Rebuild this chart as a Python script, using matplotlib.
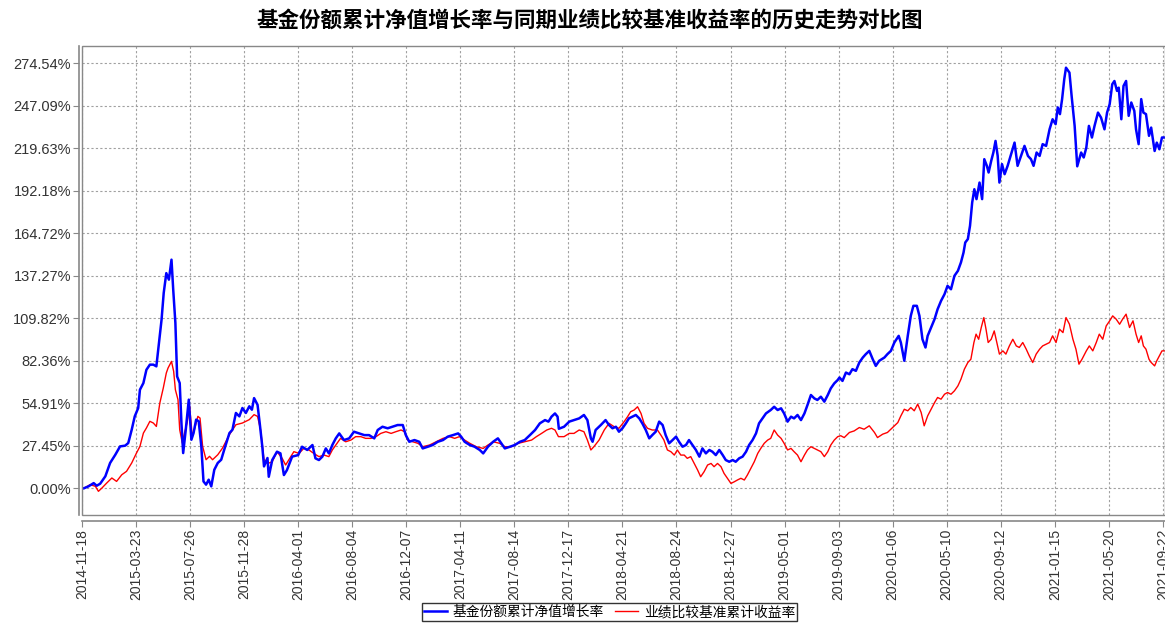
import matplotlib
matplotlib.use("Agg")
import matplotlib.pyplot as plt
import matplotlib.dates as mdates
from matplotlib.patches import Rectangle
import pandas as pd

TITLE = "基金份额累计净值增长率与同期业绩比较基准收益率的历史走势对比图"
FUND_LABEL = "基金份额累计净值增长率"
BENCH_LABEL = "业绩比较基准累计收益率"
START_DATE = "2014-11-18"

# x values are days after START_DATE, y values are cumulative returns in %
FUND_DAYS = [
    0, 4, 15, 27, 34, 42, 54, 65, 77, 88, 100, 107, 115, 122, 130, 134, 142, 149,
    157, 165, 172, 178, 184, 189, 195, 201, 207, 211, 216, 220, 226, 230, 234, 240,
    247, 253, 258, 264, 270, 276, 281, 287, 293, 299, 306, 314, 322, 329, 341, 348,
    356, 364, 371, 379, 387, 393, 398, 406, 411, 417, 421, 429, 432, 440, 451, 459,
    467, 474, 486, 500, 509, 521, 533, 540, 548, 556, 564, 571, 579, 587, 595, 606,
    618, 629, 641, 653, 664, 676, 684, 695, 707, 718, 730, 742, 749, 757, 769, 780,
    788, 800, 811, 823, 835, 846, 858, 870, 877, 885, 897, 908, 920, 928, 939, 951,
    962, 970, 978, 990, 1001, 1013, 1024, 1036, 1048, 1059, 1071, 1079, 1086, 1094,
    1100, 1103, 1115, 1127, 1138, 1150, 1161, 1169, 1177, 1181, 1188, 1200, 1211,
    1219, 1227, 1235, 1242, 1250, 1258, 1265, 1273, 1281, 1289, 1296, 1304, 1312,
    1319, 1327, 1335, 1343, 1350, 1358, 1366, 1374, 1381, 1389, 1397, 1404, 1412,
    1420, 1428, 1435, 1443, 1451, 1458, 1466, 1474, 1482, 1489, 1497, 1505, 1512,
    1520, 1528, 1536, 1543, 1551, 1559, 1566, 1574, 1582, 1593, 1601, 1609, 1617,
    1624, 1632, 1640, 1647, 1655, 1663, 1671, 1678, 1686, 1694, 1701, 1709, 1717,
    1725, 1732, 1740, 1748, 1752, 1759, 1767, 1775, 1782, 1790, 1798, 1806, 1813,
    1821, 1829, 1836, 1844, 1856, 1863, 1871, 1879, 1889, 1894, 1902, 1910, 1917,
    1923, 1931, 1937, 1944, 1951, 1956, 1964, 1972, 1979, 1987, 1995, 2002, 2010,
    2018, 2026, 2033, 2039, 2043, 2049, 2054, 2059, 2064, 2069, 2076, 2082, 2087,
    2093, 2097, 2103, 2108, 2113, 2118, 2122, 2128, 2134, 2141, 2149, 2157, 2164,
    2172, 2180, 2188, 2195, 2201, 2208, 2215, 2222, 2230, 2238, 2245, 2252, 2257,
    2262, 2267, 2272, 2276, 2284, 2289, 2296, 2302, 2306, 2311, 2317, 2323, 2329,
    2336, 2342, 2350, 2357, 2365, 2371, 2377, 2383, 2388, 2394, 2398, 2404, 2409,
    2415, 2421, 2427, 2434, 2438, 2444, 2450, 2455, 2461, 2468, 2473, 2481, 2486,
    2492, 2498, 2504,
]
FUND_VALUES = [
    0, 0, 1.3, 3.4, 1.7, 3, 7.8, 16.4, 21.7, 27.1, 27.6, 29.3, 37.9, 46.5, 51.9, 63.7, 68, 76.6,
    79.9, 79.9, 78.8, 93.9, 108.9, 126.2, 139, 134.8, 147.7, 128.3, 106.8, 72.3, 68, 42.2, 22.8, 37.9,
    57.3, 31.4, 35.7, 44.4, 43.3, 27.1, 4.5, 2.4, 5.6, 1.3, 12, 16.4, 18.5, 25, 35.7, 37.9,
    48.7, 46.5, 51.9, 48.7, 53, 50.8, 58.3, 54, 42.2, 27.1, 14.2, 19.6, 7.5, 18.3, 23.7, 22.6,
    8.6, 11.8, 20.5, 21.5, 26.9, 24.8, 28, 19.4, 18.3, 20.5, 25.8, 22.6, 28, 32.3, 35.5, 31.2,
    32.3, 36.6, 35.5, 34.4, 34.4, 32.3, 37.7, 39.8, 38.8, 39.8, 40.9, 40.9, 34.4, 30.1, 31.2, 30.1,
    25.8, 26.9, 28, 30.1, 31.2, 33.4, 34.4, 35.5, 33.4, 30.1, 28, 26.9, 24.8, 22.6, 26.9, 30.1,
    32.3, 29.1, 25.8, 26.9, 28, 30.1, 31.2, 34.4, 37.7, 42, 44.1, 43.1, 46.3, 48.4,
    46.3, 38.5, 39.8, 43.1, 44.1, 45.2, 47.4, 44.1, 32.3, 30.1, 37.7, 40.9, 44.1,
    40.9, 38.8, 39.8, 36.6, 38.8, 42, 45.2, 46.3, 47.4, 45.2, 42, 37.7, 32.3,
    34.4, 36.6, 43.1, 40.9, 34.4, 29.1, 31.2, 33.4, 30.1, 26.9, 28, 31.2, 28,
    24.8, 20.5, 25.8, 22.6, 24.8, 23.7, 21.5, 24.8, 21.5, 18.3, 17.2, 18.3, 17.2,
    19.4, 20.5, 23.7, 28, 31.2, 35.5, 42, 45.2, 48.4, 50.6, 52.7, 50.6, 51.7,
    48.4, 43.1, 46.3, 45.2, 47.4, 44.1, 48.4, 53.8, 60.3, 58.1, 57.1, 59.2, 56,
    60.3, 64.6, 67.8, 70, 71.6, 69.4, 74.8, 73.7, 77, 75.9, 81.3, 84.5, 86.7,
    88.8, 83.4, 79.1, 82.4, 84.5, 86.7, 88.8, 94.2, 98.5, 94.2, 82.4, 98.5, 111.4,
    117.9, 117.9, 111.4, 96.3, 91, 98.5, 103.9, 109.3, 115.7, 121.1, 125.4, 130.8, 128.6,
    137.3, 140.5, 145.9, 152.3, 158.8, 161, 169.6, 184.6, 193.2, 186.8, 197.5, 186.8, 212.6,
    208.3, 204, 211.5, 216.9, 224.4, 214.7, 197.5, 209.4, 202.9, 208.3, 215.8, 223.3, 208.3,
    214.7, 221.2, 214.7, 212.6, 208.3, 216.9, 214.7, 222.3, 221.2, 231.9, 238.4, 235.2, 246,
    241.7, 251.4, 264.3, 271.7, 268.5, 253.5, 234.1, 208, 212, 216.9, 213.7, 220.1, 234.1,
    226.6, 234.1, 242.7, 239.5, 231.9, 242.7, 248.1, 261, 263.1, 256.7, 258.8, 238.4, 259.9,
    263.1, 240.6, 249.2, 243.8, 231.9, 222.3, 251.4, 242.7, 241.7, 227.7, 233, 217.9, 223.3,
    219, 226.6, 226.6,
]

BENCH_DAYS = [
    0, 4, 19, 31, 38, 46, 57, 69, 80, 92, 103, 115, 126, 134, 142, 149, 157, 165,
    172, 180, 188, 195, 199, 207, 212, 216, 222, 226, 232, 237, 243, 249, 255, 260,
    268, 273, 279, 287, 295, 302, 314, 325, 341, 356, 371, 387, 398, 406, 413, 421,
    433, 440, 451, 463, 471, 478, 490, 502, 513, 525, 536, 548, 560, 571, 579, 587,
    598, 610, 622, 633, 645, 656, 668, 680, 691, 703, 715, 726, 738, 746, 753, 765,
    777, 788, 804, 819, 835, 850, 862, 873, 885, 897, 912, 928, 939, 951, 966, 978,
    993, 1009, 1024, 1040, 1051, 1063, 1075, 1086, 1094, 1102, 1115, 1127, 1138,
    1150, 1161, 1169, 1177, 1184, 1196, 1208, 1219, 1231, 1242, 1254, 1262, 1269,
    1277, 1285, 1293, 1300, 1308, 1319, 1331, 1339, 1346, 1354, 1362, 1370, 1377,
    1385, 1393, 1400, 1408, 1416, 1424, 1431, 1439, 1447, 1455, 1462, 1470, 1478,
    1485, 1493, 1501, 1509, 1516, 1524, 1532, 1539, 1547, 1555, 1563, 1570, 1578,
    1586, 1593, 1601, 1609, 1617, 1624, 1632, 1640, 1647, 1655, 1663, 1671, 1678,
    1686, 1694, 1701, 1709, 1717, 1725, 1732, 1740, 1748, 1755, 1763, 1775, 1786,
    1798, 1809, 1821, 1833, 1840, 1852, 1863, 1875, 1887, 1894, 1902, 1910, 1917,
    1925, 1933, 1941, 1948, 1956, 1964, 1972, 1979, 1987, 1995, 2002, 2010, 2018,
    2026, 2033, 2041, 2049, 2056, 2063, 2068, 2074, 2080, 2086, 2091, 2096, 2103,
    2110, 2116, 2122, 2130, 2137, 2145, 2153, 2161, 2168, 2176, 2184, 2191, 2199,
    2207, 2215, 2222, 2230, 2238, 2245, 2253, 2261, 2269, 2276, 2284, 2292, 2299,
    2306, 2313, 2323, 2330, 2338, 2346, 2353, 2361, 2369, 2377, 2384, 2392, 2400,
    2407, 2415, 2423, 2431, 2438, 2444, 2450, 2455, 2461, 2468, 2473, 2481, 2486,
    2492, 2498, 2504,
]
BENCH_VALUES = [
    0, 0, 2.4, 1.3, -1.9, 0.2, 3.4, 6.7, 4.5, 8.8, 11, 16.4, 22.8, 27.1, 35.7, 39, 43.3, 42.2,
    40, 55.1, 64.8, 74.5, 77.7, 82, 75.6, 63.7, 57.3, 37.9, 29.3, 35.7, 42.2, 53, 33.6, 37.9,
    46.5, 45.4, 27.1, 18.5, 20.7, 18.5, 21.7, 26, 34.7, 41.1, 42.2, 44.4, 47.6, 46.5, 37.9, 18.5,
    16.4, 17.2, 23.7, 19.4, 15.1, 18.3, 23.7, 22.6, 25.8, 24.8, 22.6, 20.5, 21.5, 20.5, 24.8, 28,
    32.3, 30.1, 31.2, 33.4, 33.4, 32.3, 32.3, 33.4, 35.5, 36.6, 35.5, 36.6, 37.7, 36.6, 31.2, 30.1,
    29.1, 26.9, 28, 30.1, 32.3, 33.4, 32.3, 33.4, 31.2, 29.1, 26.9, 25.8, 28, 30.1, 29.1, 26.9,
    26.9, 29.1, 30.1, 31.2, 33.4, 35.5, 37.7, 38.8, 37.7, 33.4, 33.4, 35.5, 35.5,
    37.7, 36.6, 31.2, 24.8, 26.9, 31.2, 37.7, 42, 39.8, 38.8, 43.1, 46.3, 49.5,
    50.6, 52.7, 48.4, 42, 38.8, 37.7, 37.7, 34.4, 31.2, 24.8, 23.7, 21.5, 24.8,
    21.5, 21.5, 19.4, 20.5, 16.1, 11.8, 7.5, 10.8, 15.1, 16.1, 14, 16.1, 14,
    9.7, 6.5, 3.2, 4.3, 5.4, 6.5, 5.4, 8.6, 12.9, 17.2, 22.6, 25.8, 29.1,
    31.2, 32.3, 37.7, 34.4, 32.3, 29.1, 24.8, 25.8, 23.7, 21.5, 17.2, 21.5, 24.8,
    26.9, 25.8, 24.8, 23.7, 20.5, 23.7, 28, 31.2, 33.4, 34, 32.8, 36.1, 37.1,
    39.3, 38.2, 40.4, 36.1, 32.8, 35, 36.1, 39.3, 42.5, 46.8, 51.1, 50.1, 52.2,
    50.1, 54.4, 49, 40.4, 46.8, 51.1, 55.4, 58.7, 57.6, 60.8, 61.9, 60.8, 63,
    66.2, 70.5, 77, 81.3, 83.4, 94.2, 99.6, 96.3, 103.9, 110.3, 102.8, 94.2, 96.3,
    101.7, 94.2, 86.7, 88.8, 86.7, 92, 96.3, 92, 91, 94.2, 89.9, 85.6, 81.3,
    86.7, 89.9, 92, 93.1, 94.2, 98.5, 94.2, 102.8, 100.6, 110.3, 106, 96.3, 89.9,
    80.2, 83.4, 88.8, 92, 88.8, 94.2, 99.6, 96.3, 104.9, 108.2, 111.4, 109.3, 106,
    109.3, 112.5, 103.9, 108.2, 99.6, 94.2, 98.5, 92, 89.9, 83.4, 81.3, 79.1, 82.4,
    85.6, 88.8, 88.8,
]

Y_TICK_STEP = 27.454
Y_TICK_COUNT = 11
X_TICK_DAYS = 125
X_TICK_COUNT = 21

plt.rcParams['font.family'] = ['Liberation Sans', 'Noto Sans CJK SC', 'DejaVu Sans']

start = pd.Timestamp(START_DATE)
fund_dates = start + pd.to_timedelta(FUND_DAYS, unit="D")
bench_dates = start + pd.to_timedelta(BENCH_DAYS, unit="D")

W, H = 1165, 623
fig = plt.figure(figsize=(W / 100, H / 100), dpi=100)
ax = fig.add_axes([82 / W, (H - 515) / H, 1 - 82 / W, (515 - 46) / H])

bench_line, = ax.plot(bench_dates, BENCH_VALUES, color="#ff0000", linewidth=1.0, zorder=3)
fund_line, = ax.plot(fund_dates, FUND_VALUES, color="#0000ff", linewidth=1.8, zorder=4)

ax.set_xlim(start, start + pd.Timedelta(days=2505))
ax.set_ylim(-17.2, 285.7)

# axes ticks: dates every 125 days, percent steps on y
xticks = pd.date_range(start, periods=X_TICK_COUNT, freq=f"{X_TICK_DAYS}D")
ax.set_xticks(xticks)
ax.xaxis.set_major_formatter(mdates.DateFormatter("%Y-%m-%d"))
yticks = [i * Y_TICK_STEP for i in range(Y_TICK_COUNT)]
ax.set_yticks(yticks)
ax.set_yticklabels([f"{v:.2f}%" for v in yticks])

ax.tick_params(axis="x", labelrotation=90, labelsize=10, labelcolor="#333333",
               color="#888888", length=4, pad=2)
ax.tick_params(axis="y", labelsize=10.5, labelcolor="#333333",
               color="#888888", length=4, pad=2)

ax.grid(True, color="#a0a0a0", linestyle=(0, (2, 2)), linewidth=0.8)
ax.set_axisbelow(True)

# java-chart look: axis lines sit a bit outside the plot border
for side in ["top", "right"]:
    ax.spines[side].set_visible(False)
ax.spines["bottom"].set_position(("outward", 4))
ax.spines["left"].set_position(("outward", 2))
for side in ["bottom", "left"]:
    ax.spines[side].set_color("#888888")
    ax.spines[side].set_linewidth(1.2)
ax.add_patch(Rectangle((0, 0), 1, 1, transform=ax.transAxes, fill=False,
                       edgecolor="#888888", linewidth=1.0, clip_on=False, zorder=5))

fig.text(0.506, 0.968, TITLE, ha="center", va="center", fontsize=15.5,
         fontweight="bold", family=["Noto Sans CJK SC", "DejaVu Sans"])

leg = fig.legend([fund_line, bench_line], [FUND_LABEL, BENCH_LABEL], loc="upper center",
                 bbox_to_anchor=(0.523, 1 - 603 / H), ncol=2, frameon=True,
                 fancybox=False, edgecolor="black", handlelength=1.7, handletextpad=0.4,
                 columnspacing=0.8, borderpad=0.15, borderaxespad=0,
                 prop={"family": ["Noto Sans CJK SC", "DejaVu Sans"], "size": 9.9})
leg.get_frame().set_linewidth(1.0)

fig.savefig("out.png", dpi=100)
plt.close(fig)
